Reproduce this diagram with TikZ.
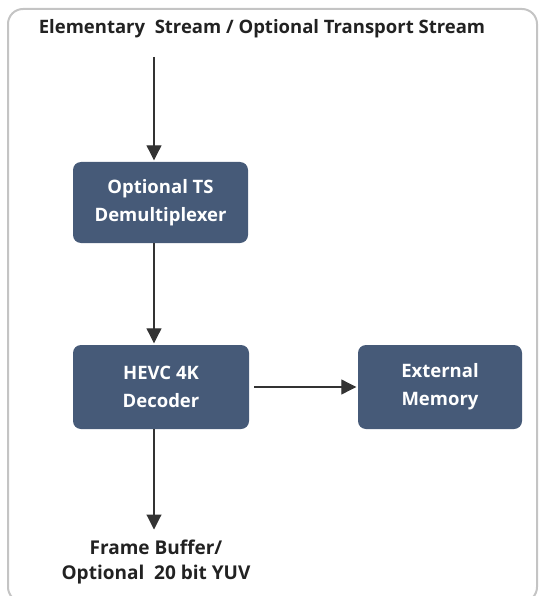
\documentclass[tikz,border=0pt]{standalone}
\usepackage{fontspec}
\setmainfont{Open Sans}
\usetikzlibrary{arrows.meta}
\definecolor{boxfill}{HTML}{465A78}
\definecolor{framegray}{HTML}{C4C4C4}
\definecolor{linegray}{HTML}{333333}
\definecolor{inkdark}{HTML}{222222}
\tikzset{
  x=1pt, y=-1pt,
  blockbox/.style={draw=none, fill=boxfill, rounded corners=8pt, text=white,
    font=\bfseries\fontsize{18.5}{28}\selectfont, align=center, inner sep=0pt},
  label/.style={text=inkdark, font=\bfseries\fontsize{18.5}{25}\selectfont, align=center, inner sep=0pt},
  flow/.style={draw=linegray, line width=1.1pt, shorten >=1.5pt, -{Triangle[length=15pt,width=15pt]}}
}
\begin{document}
\begin{tikzpicture}
  \useasboundingbox (0,0) rectangle (538,596);
  % outer frame
  \draw[framegray, line width=2pt, rounded corners=15pt] (8,9) rectangle (537,602);
  % title and output labels
  \node[label] (title) at (262,29) {Elementary\ \ Stream / Optional Transport Stream};
  \coordinate (src) at (154,57);
  \node[label, font=\bfseries\fontsize{19}{25}\selectfont] (out) at (156,562) {Frame Buffer/\\Optional\ \ 20 bit YUV};
  \coordinate (sink) at (154,531);
  % processing blocks
  \path[blockbox] (73,162) rectangle (248,243);
  \node[blockbox, fill=none, minimum width=175pt, minimum height=81pt] (demux) at (160.5,202.5) {Optional TS\\Demultiplexer};
  \path[blockbox] (73,345) rectangle (249,429);
  \node[blockbox, fill=none, minimum width=176pt, minimum height=84pt] (dec) at (161,387) {HEVC 4K\\Decoder};
  \path[blockbox] (358,345) rectangle (522,429);
  \node[blockbox, fill=none, minimum width=164pt, minimum height=84pt] (mem) at (440,387) {External\\Memory};
  % connectors
  \draw[flow] (src) -- (src |- demux.north);
  \draw[flow] (src |- demux.south) -- (src |- dec.north);
  \draw[flow] ([xshift=5pt]dec.east) -- (mem.west);
  \draw[flow] (src |- dec.south) -- (sink);
\end{tikzpicture}
\end{document}
